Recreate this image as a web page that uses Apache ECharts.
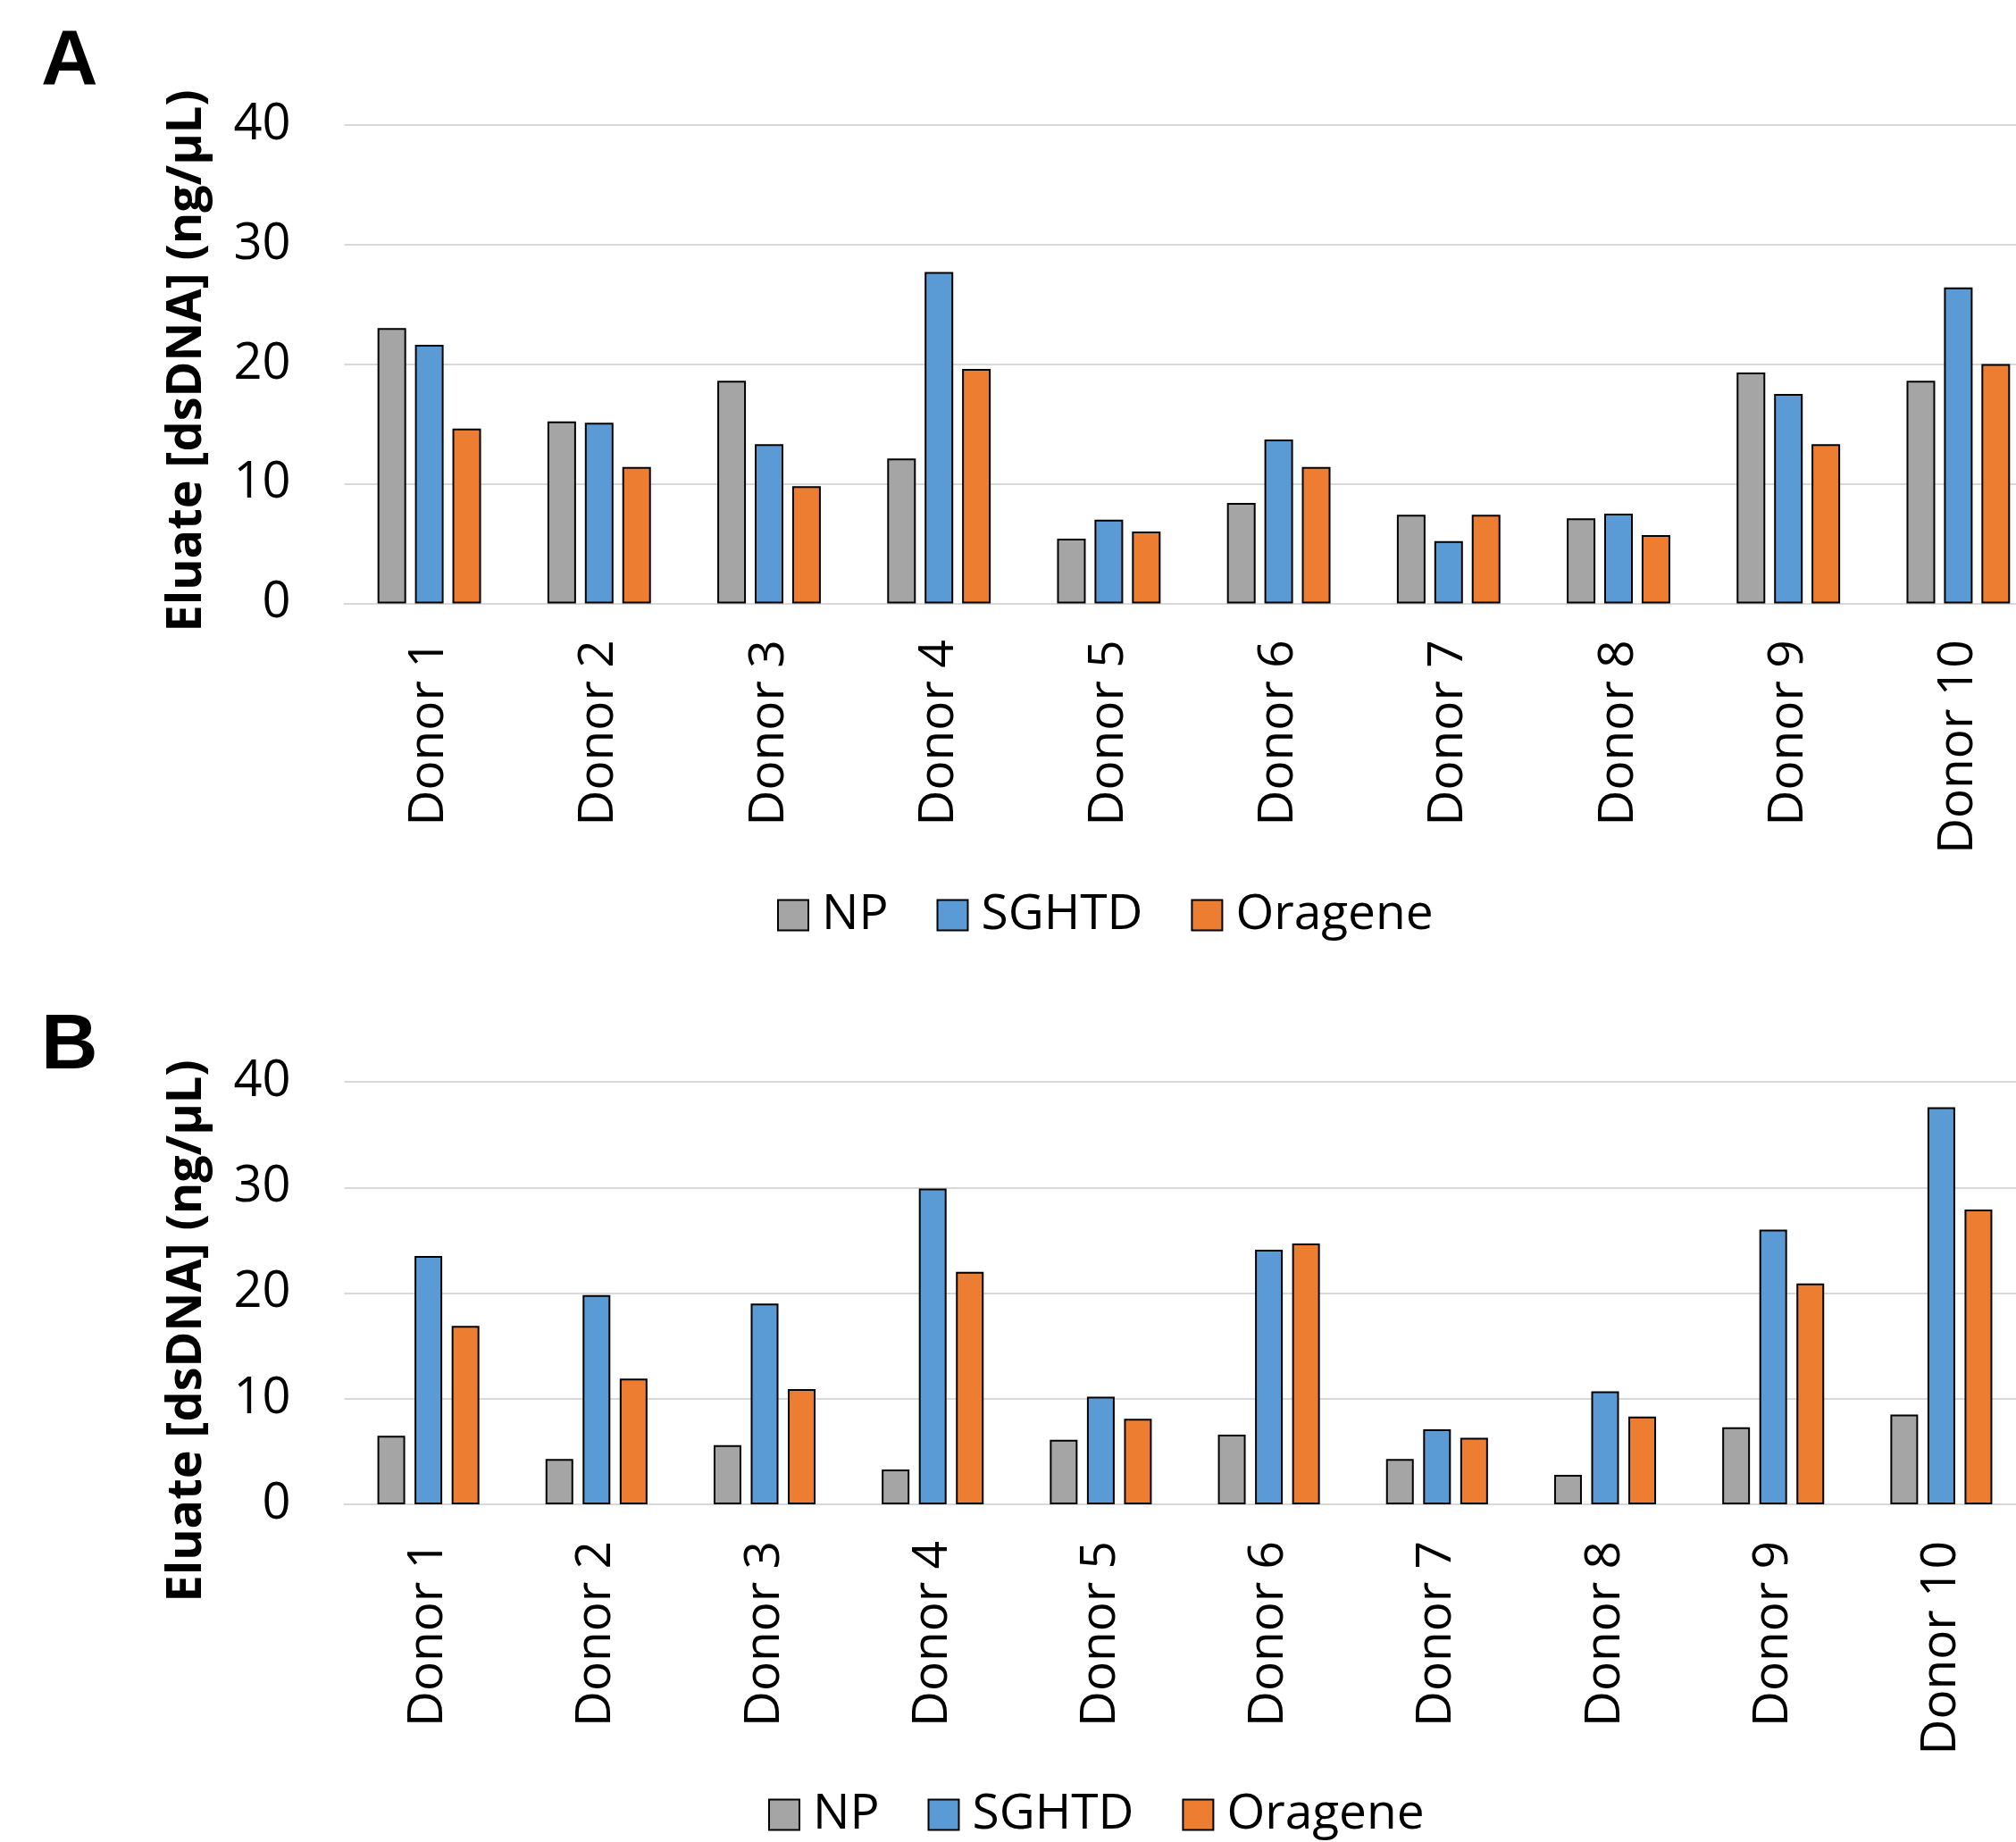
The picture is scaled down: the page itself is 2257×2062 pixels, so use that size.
<!DOCTYPE html>
<html>
<head>
<meta charset="utf-8">
<script src="https://cdn.jsdelivr.net/npm/echarts@6/dist/echarts.min.js"></script>
<style>
html,body{margin:0;padding:0;background:#fff;}
#chart{width:2257px;height:2062px;}
</style>
</head>
<body>
<div id="chart"></div>
<script>
const categories = ['Donor 1','Donor 2','Donor 3','Donor 4','Donor 5','Donor 6','Donor 7','Donor 8','Donor 9','Donor 10'];
const seriesNames = ['NP','SGHTD','Oragene'];
const yTicks = [0, 10, 20, 30, 40];
const yTitle = 'Eluate [dsDNA] (ng/\u00b5L)';
const panelLabels = ['A','B'];

// Panel A
const npA      = [23.0, 15.2, 18.6, 12.1, 5.4, 8.4, 7.4, 7.1, 19.3, 18.6];
const sghtdA   = [21.6, 15.1, 13.3, 27.7, 7.0, 13.7, 5.2, 7.5, 17.5, 26.4];
const orageneA = [14.6, 11.4, 9.8, 19.6, 6.0, 11.4, 7.4, 5.7, 13.3, 20.0];

// Panel B
const npB      = [6.5, 4.3, 5.6, 3.3, 6.1, 6.6, 4.3, 2.8, 7.3, 8.5];
const sghtdB   = [23.5, 19.8, 19.0, 29.9, 10.2, 24.1, 7.1, 10.7, 26.0, 37.6];
const orageneB = [16.9, 11.9, 10.9, 22.0, 8.1, 24.7, 6.3, 8.3, 20.9, 27.9];

const colors = ['#A5A5A5', '#5B9BD5', '#ED7D31'];
const FONT = "'Open Sans', 'Noto Sans', sans-serif";

const chart = echarts.init(document.getElementById('chart'), null, {renderer: 'canvas', width: 2257, height: 2062});

function xAxisFor(gi) {
  return {
    type: 'category', gridIndex: gi, data: categories,
    axisLine: {lineStyle: {color: '#d9d9d9', width: 2}},
    axisTick: {show: false},
    axisLabel: {rotate: 90, margin: 41, fontSize: 55, color: '#000', fontFamily: FONT}
  };
}
function yAxisFor(gi) {
  return {
    type: 'value', gridIndex: gi, min: yTicks[0], max: yTicks[yTicks.length-1], interval: 10,
    axisLine: {show: false}, axisTick: {show: false},
    splitLine: {lineStyle: {color: '#d9d9d9', width: 2}},
    axisLabel: {margin: 60, fontSize: 56, color: '#000', fontFamily: FONT}
  };
}
function barSeries(name, data, idx, gi, bw, gap) {
  return {
    type: 'bar', name: name, data: data,
    xAxisIndex: gi, yAxisIndex: gi,
    barWidth: bw, barGap: gap,
    itemStyle: {color: colors[idx], borderColor: '#000', borderWidth: 2},
    emphasis: {disabled: true}
  };
}
function legendFor(left, top) {
  return {
    data: seriesNames, left: left, top: top, padding: 0,
    itemWidth: 34, itemHeight: 34, itemGap: 54,
    icon: 'rect',
    textStyle: {fontSize: 55, color: '#000', fontFamily: FONT, padding: [0, 0, 0, 10]}
  };
}

const option = {
  backgroundColor: '#fff',
  animation: false,
  color: colors,
  grid: [
    {left: 385.5, top: 139.7, width: 1902, height: 535.7, containLabel: false, outerBoundsMode: 'none'},
    {left: 385.5, top: 1211, width: 1882, height: 473, containLabel: false, outerBoundsMode: 'none'}
  ],
  xAxis: [xAxisFor(0), xAxisFor(1)],
  yAxis: [yAxisFor(0), yAxisFor(1)],
  legend: [legendFor(870, 997), legendFor(860, 2004)],
  series: [
    barSeries(seriesNames[0], npA, 0, 0, 32, '31%'),
    barSeries(seriesNames[1], sghtdA, 1, 0, 32, '31%'),
    barSeries(seriesNames[2], orageneA, 2, 0, 32, '31%'),
    barSeries(seriesNames[0], npB, 0, 1, 31, '34%'),
    barSeries(seriesNames[1], sghtdB, 1, 1, 31, '34%'),
    barSeries(seriesNames[2], orageneB, 2, 1, 31, '34%')
  ],
  graphic: [
    {type: 'text', x: 46, y: 70, style: {text: panelLabels[0], font: "bold 88px 'Liberation Sans', Arial, sans-serif", fill: '#000', verticalAlign: 'middle', align: 'left'}},
    {type: 'text', x: 46, y: 1172, style: {text: panelLabels[1], font: "bold 88px 'Liberation Sans', Arial, sans-serif", fill: '#000', verticalAlign: 'middle', align: 'left'}},
    {type: 'text', x: 210, y: 404, rotation: Math.PI/2, style: {text: yTitle, font: "bold 54px " + FONT, fill: '#000', align: 'center', verticalAlign: 'middle'}},
    {type: 'text', x: 210, y: 1490, rotation: Math.PI/2, style: {text: yTitle, font: "bold 54px " + FONT, fill: '#000', align: 'center', verticalAlign: 'middle'}}
  ]
};
chart.setOption(option);
</script>
</body>
</html>
